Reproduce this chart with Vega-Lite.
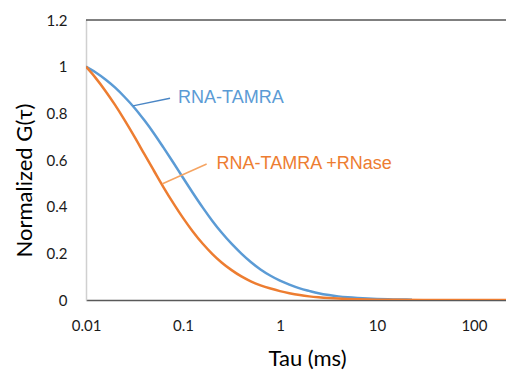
{
  "$schema": "https://vega.github.io/schema/vega-lite/v6.json",
  "autosize": {"type": "none"},
  "padding": {"left": 86, "top": 20, "right": 0, "bottom": 70},
  "width": 420,
  "height": 280,
  "background": "white",
  "config": {"view": {"stroke": null}},
  "datasets": {
    "curves": [
      {"series": "RNA-TAMRA", "tau": 0.01, "g": 1.0},
      {"series": "RNA-TAMRA", "tau": 0.0125, "g": 0.976},
      {"series": "RNA-TAMRA", "tau": 0.016, "g": 0.944},
      {"series": "RNA-TAMRA", "tau": 0.02, "g": 0.91},
      {"series": "RNA-TAMRA", "tau": 0.025, "g": 0.87},
      {"series": "RNA-TAMRA", "tau": 0.032, "g": 0.821},
      {"series": "RNA-TAMRA", "tau": 0.04, "g": 0.77},
      {"series": "RNA-TAMRA", "tau": 0.05, "g": 0.715},
      {"series": "RNA-TAMRA", "tau": 0.063, "g": 0.653},
      {"series": "RNA-TAMRA", "tau": 0.08, "g": 0.587},
      {"series": "RNA-TAMRA", "tau": 0.1, "g": 0.524},
      {"series": "RNA-TAMRA", "tau": 0.125, "g": 0.462},
      {"series": "RNA-TAMRA", "tau": 0.16, "g": 0.396},
      {"series": "RNA-TAMRA", "tau": 0.2, "g": 0.34},
      {"series": "RNA-TAMRA", "tau": 0.25, "g": 0.289},
      {"series": "RNA-TAMRA", "tau": 0.32, "g": 0.239},
      {"series": "RNA-TAMRA", "tau": 0.4, "g": 0.199},
      {"series": "RNA-TAMRA", "tau": 0.5, "g": 0.163},
      {"series": "RNA-TAMRA", "tau": 0.63, "g": 0.131},
      {"series": "RNA-TAMRA", "tau": 0.8, "g": 0.104},
      {"series": "RNA-TAMRA", "tau": 1, "g": 0.083},
      {"series": "RNA-TAMRA", "tau": 1.25, "g": 0.066},
      {"series": "RNA-TAMRA", "tau": 1.6, "g": 0.05},
      {"series": "RNA-TAMRA", "tau": 2, "g": 0.039},
      {"series": "RNA-TAMRA", "tau": 2.5, "g": 0.029},
      {"series": "RNA-TAMRA", "tau": 3.2, "g": 0.021},
      {"series": "RNA-TAMRA", "tau": 4, "g": 0.0155},
      {"series": "RNA-TAMRA", "tau": 5, "g": 0.0115},
      {"series": "RNA-TAMRA", "tau": 6.3, "g": 0.0085},
      {"series": "RNA-TAMRA", "tau": 8, "g": 0.0061},
      {"series": "RNA-TAMRA", "tau": 10, "g": 0.0044},
      {"series": "RNA-TAMRA", "tau": 13, "g": 0.0031},
      {"series": "RNA-TAMRA", "tau": 16, "g": 0.0023},
      {"series": "RNA-TAMRA", "tau": 20, "g": 0.0017},
      {"series": "RNA-TAMRA", "tau": 23, "g": 0.0014},
      {"series": "RNA-TAMRA +RNase", "tau": 0.01, "g": 1.0},
      {"series": "RNA-TAMRA +RNase", "tau": 0.0125, "g": 0.953},
      {"series": "RNA-TAMRA +RNase", "tau": 0.016, "g": 0.894},
      {"series": "RNA-TAMRA +RNase", "tau": 0.02, "g": 0.835},
      {"series": "RNA-TAMRA +RNase", "tau": 0.025, "g": 0.771},
      {"series": "RNA-TAMRA +RNase", "tau": 0.032, "g": 0.696},
      {"series": "RNA-TAMRA +RNase", "tau": 0.04, "g": 0.625},
      {"series": "RNA-TAMRA +RNase", "tau": 0.05, "g": 0.555},
      {"series": "RNA-TAMRA +RNase", "tau": 0.063, "g": 0.483},
      {"series": "RNA-TAMRA +RNase", "tau": 0.08, "g": 0.413},
      {"series": "RNA-TAMRA +RNase", "tau": 0.1, "g": 0.352},
      {"series": "RNA-TAMRA +RNase", "tau": 0.125, "g": 0.296},
      {"series": "RNA-TAMRA +RNase", "tau": 0.16, "g": 0.241},
      {"series": "RNA-TAMRA +RNase", "tau": 0.2, "g": 0.198},
      {"series": "RNA-TAMRA +RNase", "tau": 0.25, "g": 0.161},
      {"series": "RNA-TAMRA +RNase", "tau": 0.32, "g": 0.127},
      {"series": "RNA-TAMRA +RNase", "tau": 0.4, "g": 0.101},
      {"series": "RNA-TAMRA +RNase", "tau": 0.5, "g": 0.08},
      {"series": "RNA-TAMRA +RNase", "tau": 0.63, "g": 0.063},
      {"series": "RNA-TAMRA +RNase", "tau": 0.8, "g": 0.049},
      {"series": "RNA-TAMRA +RNase", "tau": 1, "g": 0.038},
      {"series": "RNA-TAMRA +RNase", "tau": 1.25, "g": 0.029},
      {"series": "RNA-TAMRA +RNase", "tau": 1.6, "g": 0.021},
      {"series": "RNA-TAMRA +RNase", "tau": 2, "g": 0.0155},
      {"series": "RNA-TAMRA +RNase", "tau": 2.5, "g": 0.0115},
      {"series": "RNA-TAMRA +RNase", "tau": 3.2, "g": 0.0082},
      {"series": "RNA-TAMRA +RNase", "tau": 4, "g": 0.006},
      {"series": "RNA-TAMRA +RNase", "tau": 5, "g": 0.0043},
      {"series": "RNA-TAMRA +RNase", "tau": 6.3, "g": 0.0031},
      {"series": "RNA-TAMRA +RNase", "tau": 8, "g": 0.0022},
      {"series": "RNA-TAMRA +RNase", "tau": 10, "g": 0.0016},
      {"series": "RNA-TAMRA +RNase", "tau": 16, "g": 0.001},
      {"series": "RNA-TAMRA +RNase", "tau": 30, "g": 0.0005},
      {"series": "RNA-TAMRA +RNase", "tau": 100, "g": 0.0001},
      {"series": "RNA-TAMRA +RNase", "tau": 214, "g": 0.0}
    ],
    "leaders": [
      {"series": "RNA-TAMRA", "tau": 0.0305, "g": 0.832},
      {"series": "RNA-TAMRA", "tau": 0.0735, "g": 0.865},
      {"series": "RNA-TAMRA +RNase", "tau": 0.0615, "g": 0.498},
      {"series": "RNA-TAMRA +RNase", "tau": 0.1754, "g": 0.583}
    ],
    "labels": [
      {"series": "RNA-TAMRA", "tau": 0.0888, "g": 0.866},
      {"series": "RNA-TAMRA +RNase", "tau": 0.222, "g": 0.581}
    ]
  },
  "layer": [
    {
      "data": {"values": [{}]},
      "mark": {"type": "rule", "color": "#000000", "strokeWidth": 1},
      "encoding": {"y": {"datum": 1.2, "type": "quantitative", "scale": {"domain": [0, 1.2], "nice": false}}}
    },
    {
      "data": {"name": "curves"},
      "mark": {"type": "line", "strokeWidth": 2.5, "interpolate": "monotone", "clip": true},
      "encoding": {
        "x": {
          "field": "tau", "type": "quantitative",
          "scale": {"type": "log", "domain": [0.01, 214], "nice": false},
          "axis": {
            "values": [0.01, 0.1, 1, 10, 100], "format": "~g", "labelFlush": false,
            "title": "Tau (ms)", "grid": false, "ticks": false,
            "domainColor": "#595959", "domainWidth": 1.5,
            "labelFont": "Lato", "labelFontSize": 15, "labelColor": "#1a1a1a", "labelPadding": 18,
            "titleFont": "Lato", "titleFontSize": 22, "titleFontWeight": "normal", "titleColor": "#000000",
            "titleX": 221, "titleY": 65, "titleBaseline": "alphabetic"
          }
        },
        "y": {
          "field": "g", "type": "quantitative",
          "scale": {"domain": [0, 1.2], "nice": false},
          "axis": {
            "values": [0, 0.2, 0.4, 0.6, 0.8, 1, 1.2], "format": "~g", "labelFlush": false,
            "title": "Normalized G(τ)", "grid": false, "ticks": false,
            "domainColor": "#d0d0d0", "domainWidth": 1.5,
            "labelFont": "Lato", "labelFontSize": 15, "labelColor": "#1a1a1a", "labelPadding": 19,
            "titleFont": "Lato", "titleFontSize": 22, "titleFontWeight": "normal", "titleColor": "#000000",
            "titleX": -62, "titleY": 160, "titleBaseline": "middle"
          }
        },
        "color": {
          "field": "series", "type": "nominal",
          "scale": {"domain": ["RNA-TAMRA", "RNA-TAMRA +RNase"], "range": ["#5B9BD5", "#ED7D31"]},
          "legend": null
        },
        "order": {"field": "tau"}
      }
    },
    {
      "data": {"name": "leaders"},
      "transform": [{"filter": "datum.series === 'RNA-TAMRA'"}],
      "mark": {"type": "line", "strokeWidth": 1.5, "color": "#4A86C5"},
      "encoding": {
        "x": {"field": "tau", "type": "quantitative"},
        "y": {"field": "g", "type": "quantitative"}
      }
    },
    {
      "data": {"name": "leaders"},
      "transform": [{"filter": "datum.series === 'RNA-TAMRA +RNase'"}],
      "mark": {"type": "line", "strokeWidth": 1.5, "color": "#F5A462"},
      "encoding": {
        "x": {"field": "tau", "type": "quantitative"},
        "y": {"field": "g", "type": "quantitative"}
      }
    },
    {
      "data": {"name": "labels"},
      "mark": {"type": "text", "align": "left", "baseline": "middle", "font": "Liberation Sans", "fontSize": 18},
      "encoding": {
        "x": {"field": "tau", "type": "quantitative"},
        "y": {"field": "g", "type": "quantitative"},
        "text": {"field": "series"},
        "color": {"field": "series", "type": "nominal", "legend": null}
      }
    }
  ]
}
